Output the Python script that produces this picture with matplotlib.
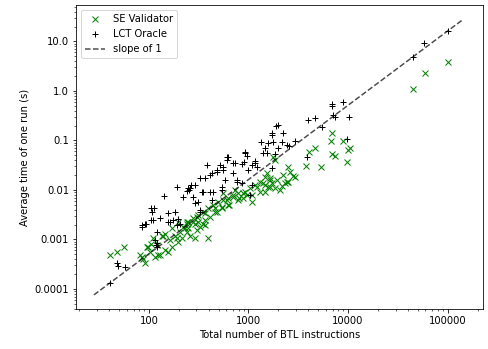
import matplotlib
matplotlib.use("Agg")
import matplotlib.pyplot as plt
from matplotlib.ticker import FixedLocator, FixedFormatter, LogLocator, NullFormatter

# SE Validator: (number of BTL instructions, average time in s)
se_x = [45290, 59430, 101900,
        6855, 6745, 8974, 10470, 4656, 4083, 6855, 7396, 9705, 3784, 5321,
        1845, 2512, 2612, 2239, 2931, 1919, 2421, 1710, 2158,
        10000, 2818, 2512, 1644, 2075, 2328, 1845,
        1774, 1524, 1466, 1644, 1306, 1162, 1466, 1581, 1035, 923, 789, 703,
        627, 558, 497, 443, 394, 352, 313, 279, 248, 789, 627, 538, 460, 366,
        290, 1306, 1077,
        40.6, 47.3, 56.5, 87.6, 81, 91, 98, 106, 102, 115, 129, 145, 156, 169,
        134, 145, 182, 197, 213, 239, 239, 120, 110,
        85, 96, 124, 139, 190, 221, 248, 290, 301, 352, 394, 410, 479, 538,
        558, 604, 703, 887, 1077, 1208, 1409, 1644, 1466, 887, 301, 279, 326,
        239, 640, 810, 970, 460, 366, 731,
        162, 205, 230, 258, 170, 197, 313, 366]
se_y = [1.08, 2.34, 3.91,
        0.144, 0.099, 0.099, 0.0695, 0.0716, 0.0594, 0.0533, 0.0486, 0.0373,
        0.0305, 0.0288,
        0.0404, 0.0288, 0.0234, 0.0201, 0.0186, 0.0159, 0.0147, 0.0136, 0.0121,
        0.0643, 0.0192, 0.0147, 0.0117, 0.0100, 0.0136, 0.0108,
        0.0471, 0.0217, 0.0186, 0.0172, 0.0147, 0.0126, 0.0126, 0.0117, 0.0108,
        0.0092, 0.0086, 0.0079, 0.0068, 0.0063, 0.0058, 0.0050, 0.0043, 0.0036,
        0.0031, 0.0027, 0.0023, 0.0063, 0.0050, 0.0043, 0.0036, 0.0025, 0.0021,
        0.0092, 0.0079,
        0.00049, 0.00057, 0.00070, 0.00040, 0.00049, 0.00033, 0.00070, 0.00081,
        0.00057, 0.00045, 0.00049, 0.00061, 0.00057, 0.00070,
        0.0012, 0.0013, 0.0012, 0.00090, 0.00106, 0.0014, 0.0021, 0.00077,
        0.00106,
        0.00045, 0.00072, 0.00049, 0.0012, 0.00106, 0.0018, 0.0017, 0.00106,
        0.00156, 0.0021, 0.00106, 0.0029, 0.0036, 0.0046, 0.0086, 0.0063,
        0.0073, 0.0068, 0.0058, 0.0117, 0.0136, 0.0159, 0.0092, 0.0086, 0.0029,
        0.0023, 0.0018, 0.0023, 0.0050, 0.0068, 0.0079, 0.0043, 0.0034, 0.0100,
        0.00098, 0.0014, 0.0017, 0.0012, 0.0017, 0.0023, 0.0023, 0.0020]

# LCT Oracle: (number of BTL instructions, average time in s)
lct_x = [190, 142, 221, 239, 248, 113, 108, 156, 182, 129, 110, 93, 86, 154,
         175, 197, 205, 120, 115, 117, 120, 48, 57, 49,
         380, 604, 923, 1400, 250, 262, 326, 410, 479, 558, 703, 855, 1092,
         1162, 352, 443, 538, 760, 855, 1077, 1035, 279, 290, 326, 106, 106,
         85, 91, 163, 190, 120, 41,
         1875, 1734, 1337, 1560, 1774, 1466, 1524, 1845, 923, 959, 908, 1162,
         1208, 995, 627, 604, 731, 517, 427, 366, 290, 258, 558, 703, 760, 580,
         538, 410, 339, 313, 427, 326, 479,
         6855, 6855, 8974, 3990, 4656, 7112, 7396, 10310, 5445, 9705, 3846,
         1991, 2239, 1710, 2158, 2421, 2570, 2931, 1991, 1710,
         44670, 58480, 101900]
lct_y = [0.0114, 0.0076, 0.0073, 0.0097, 0.0108, 0.0043, 0.0036, 0.0034,
         0.0036, 0.0027, 0.0025, 0.0021, 0.0018, 0.0023, 0.0025, 0.0026, 0.0021,
         0.0014, 0.00098, 0.00077, 0.00072, 0.00033, 0.00028, 0.00029,
         0.032, 0.047, 0.055, 0.056, 0.0100, 0.0126, 0.0172, 0.0200, 0.0234,
         0.0296, 0.0356, 0.0335, 0.0320, 0.0346, 0.0092, 0.0092, 0.0117, 0.0147,
         0.0136, 0.0126, 0.0079, 0.0073, 0.0054, 0.0036, 0.0043, 0.0025, 0.0020,
         0.0021, 0.0023, 0.0020, 0.00084, 0.000134,
         0.196, 0.129, 0.0946, 0.0904, 0.0946, 0.0695, 0.0551, 0.0533, 0.0594,
         0.0486, 0.0373, 0.0391, 0.0296, 0.0254, 0.0471, 0.0404, 0.0356, 0.0320,
         0.0217, 0.0172, 0.0126, 0.0108, 0.0254, 0.0217, 0.0159, 0.0159, 0.0100,
         0.0092, 0.0092, 0.0058, 0.0063, 0.0039, 0.0254,
         0.546, 0.498, 0.608, 0.259, 0.281, 0.327, 0.294, 0.294, 0.185, 0.106,
         0.0458, 0.206, 0.140, 0.140, 0.0946, 0.0811, 0.0774, 0.099, 0.0695,
         0.0274,
         4.93, 9.2, 16.3]

# reference line end points
line_x = [28, 144000]
line_y = [7.6e-5, 28.1]

y_ticks = [0.0001, 0.001, 0.01, 0.1, 1.0, 10.0]
y_tick_labels = ["0.0001", "0.001", "0.01", "0.1", "1.0", "10.0"]
x_ticks = [100, 1000, 10000, 100000]
x_tick_labels = ["100", "1000", "10000", "100000"]

fig = plt.figure(figsize=(488 / 72, 349 / 72), dpi=72)
ax = fig.add_axes([76 / 488, 1 - 309 / 349, 407 / 488, 304 / 349])

ax.scatter(se_x, se_y, marker="x", color="green", s=36, linewidths=1,
           label="SE Validator", zorder=2)
ax.scatter(lct_x, lct_y, marker="+", color="k", s=36, linewidths=1,
           label="LCT Oracle", zorder=3)
ax.plot(line_x, line_y, linestyle="--", color="k", alpha=0.7, linewidth=1.5,
        label="slope of 1", zorder=4)

ax.set_xscale("log")
ax.set_yscale("log")
ax.set_xlim(18.5, 227000)
ax.set_ylim(3.94e-5, 54.6)

ax.xaxis.set_major_locator(FixedLocator(x_ticks))
ax.xaxis.set_major_formatter(FixedFormatter(x_tick_labels))
ax.yaxis.set_major_locator(FixedLocator(y_ticks))
ax.yaxis.set_major_formatter(FixedFormatter(y_tick_labels))
ax.xaxis.set_minor_locator(LogLocator(base=10, subs=range(2, 10), numticks=20))
ax.yaxis.set_minor_locator(LogLocator(base=10, subs=range(2, 10), numticks=20))
ax.xaxis.set_minor_formatter(NullFormatter())
ax.yaxis.set_minor_formatter(NullFormatter())

ax.set_xlabel("Total number of BTL instructions")
ax.set_ylabel("Average time of one run (s)")
ax.legend(loc="upper left")

fig.savefig("out.png", dpi=72)
